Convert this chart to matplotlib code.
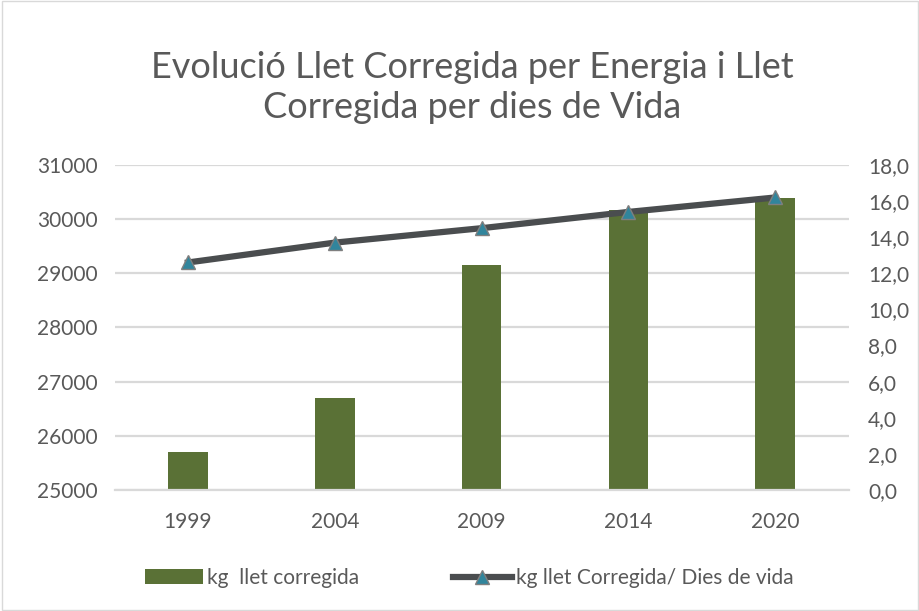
import matplotlib.pyplot as plt
import numpy as np

plt.rcParams['font.family'] = ['Lato', 'DejaVu Sans']

# dades
anys = ['1999', '2004', '2009', '2014', '2020']
llet_corregida = [25700, 26700, 29150, 30170, 30390]
llet_dies_vida = [12.6, 13.7, 14.5, 15.4, 16.2]

fig = plt.figure(figsize=(9.2, 6.11), dpi=100)
ax = fig.add_axes([0.1245, 0.198, 0.798, 0.532])
x = np.arange(len(anys))

ax.bar(x, [v - 25000 for v in llet_corregida], bottom=25000, width=0.27,
       color='#5a7136', label='kg  llet corregida', zorder=2)
ax.set_ylim(25000, 31000)
ax.set_yticks(range(25000, 31001, 1000))
ax.set_xlim(-0.5, len(anys) - 0.5)
ax.set_xticks(x)
ax.set_xticklabels(anys)
ax.grid(axis='y', color='#d9d9d9', linewidth=1.6, zorder=0)
for s in ax.spines.values():
    s.set_visible(False)
ax.spines['bottom'].set_visible(True)
ax.spines['bottom'].set_color('#d9d9d9')
ax.spines['bottom'].set_linewidth(1.6)
ax.tick_params(length=0, labelsize=15, labelcolor='#595959')
ax.tick_params(axis='y', pad=12)
ax.tick_params(axis='x', pad=16)

ax2 = ax.twinx()
ax2.plot(x, llet_dies_vida, color='#4a4d4f', linewidth=4.5, marker='^',
         markersize=10, markerfacecolor='#31859c', markeredgecolor='#7f7f7f',
         markeredgewidth=1, label='kg llet Corregida/ Dies de vida', zorder=3)
ax2.set_ylim(0, 18)
ax2.set_yticks(range(0, 19, 2))
ax2.set_yticklabels(['{:.1f}'.format(v).replace('.', ',') for v in range(0, 19, 2)])
for s in ax2.spines.values():
    s.set_visible(False)
ax2.tick_params(length=0, labelsize=15, labelcolor='#595959', pad=14)

fig.text(0.513, 0.857, 'Evolució Llet Corregida per Energia i Llet\nCorregida per dies de Vida',
         ha='center', va='center', fontsize=26, color='#595959', linespacing=1.25)

h1, l1 = ax.get_legend_handles_labels()
h2, l2 = ax2.get_legend_handles_labels()
fig.legend(h1 + h2, l1 + l2, loc='center', bbox_to_anchor=(0.51, 0.054), ncol=2,
           frameon=False, fontsize=15, labelcolor='#595959', handlelength=2.8,
           handletextpad=0.2, columnspacing=4.5)

fig.patches.append(plt.Rectangle((0.002, 0.002), 0.996, 0.996, transform=fig.transFigure,
                                 fill=False, edgecolor='#d9d9d9', linewidth=1))
fig.savefig('out.png', dpi=100)
